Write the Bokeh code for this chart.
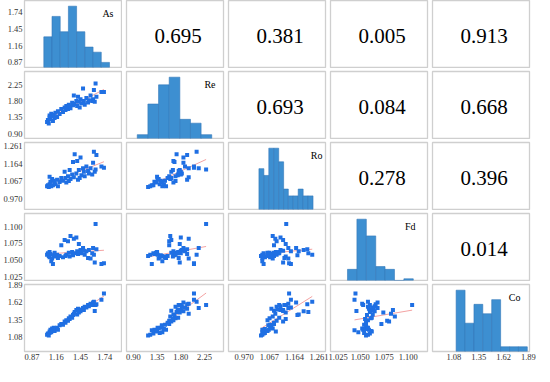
import numpy as np
from bokeh.plotting import figure
from bokeh.layouts import gridplot
from bokeh.models import Range1d, FixedTicker
from bokeh.core.properties import value
from bokeh.embed import file_html
from bokeh.resources import INLINE

variables = ["As", "Re", "Ro", "Fd", "Co"]

# samples (one value per sample for each variable)
As = [1.05, 1.06, 1.07, 1.08, 1.08, 1.09, 1.10, 1.11, 1.12, 1.13,
      1.14, 1.15, 1.17, 1.18, 1.20, 1.22, 1.24, 1.26, 1.27, 1.28,
      1.30, 1.31, 1.32, 1.33, 1.35, 1.36, 1.37, 1.38, 1.40, 1.41,
      1.42, 1.43, 1.44, 1.45, 1.46, 1.48, 1.49, 1.50, 1.52, 1.54,
      1.55, 1.57, 1.59, 1.60, 1.61, 1.62, 1.63, 1.64, 1.70, 1.73]
Re = [1.22, 1.28, 1.18, 1.35, 1.40, 1.30, 1.45, 1.38, 1.25, 1.42,
      1.33, 1.48, 1.36, 1.52, 1.44, 1.58, 1.50, 1.62, 1.55, 1.66,
      1.58, 1.70, 1.65, 1.60, 1.75, 1.68, 1.95, 1.72, 1.80, 1.66,
      1.92, 1.78, 1.62, 1.85, 1.74, 2.14, 1.80, 1.70, 1.88, 1.76,
      1.82, 1.95, 1.80, 1.85, 2.10, 1.78, 2.28, 1.92, 2.05, 2.05]
Ro = [1.040, 1.045, 1.035, 1.092, 1.050, 1.065, 1.040, 1.080, 1.045, 1.070,
      1.060, 1.050, 1.075, 1.040, 1.063, 1.085, 1.070, 1.120, 1.085, 1.060,
      1.095, 1.068, 1.130, 1.080, 1.105, 1.175, 1.090, 1.217, 1.110, 1.180,
      1.075, 1.130, 1.085, 1.199, 1.100, 1.140, 1.120, 1.095, 1.150, 1.125,
      1.110, 1.140, 1.105, 1.170, 1.232, 1.120, 1.132, 1.213, 1.150, 1.143]
Fd = [1.058, 1.060, 1.056, 1.062, 1.054, 1.059, 1.048, 1.052, 1.044, 1.057,
      1.061, 1.055, 1.058, 1.053, 1.056, 1.072, 1.054, 1.080, 1.056, 1.058,
      1.078, 1.061, 1.055, 1.086, 1.062, 1.057, 1.082, 1.060, 1.084, 1.063,
      1.059, 1.074, 1.061, 1.065, 1.060, 1.068, 1.064, 1.058, 1.063, 1.053,
      1.065, 1.052, 1.060, 1.068, 1.058, 1.046, 1.104, 1.066, 1.044, 1.045]
Co = [1.11, 1.13, 1.10, 1.16, 1.14, 1.19, 1.15, 1.21, 1.18, 1.22,
      1.17, 1.20, 1.22, 1.19, 1.26, 1.28, 1.27, 1.32, 1.30, 1.34,
      1.33, 1.37, 1.36, 1.40, 1.38, 1.42, 1.44, 1.47, 1.50, 1.43,
      1.52, 1.46, 1.49, 1.48, 1.51, 1.53, 1.50, 1.55, 1.54, 1.58,
      1.56, 1.60, 1.58, 1.62, 1.63, 1.485, 1.58, 1.59, 1.66, 1.76]

# correlation coefficients shown in the upper triangle
corr_As = ["0.695", "0.381", "0.005", "0.913"]   # vs Re, Ro, Fd, Co
corr_Re = ["0.693", "0.084", "0.668"]            # vs Ro, Fd, Co
corr_Ro = ["0.278", "0.396"]                     # vs Fd, Co
corr_Fd = ["0.014"]                              # vs Co

# tick values and labels
ticks_As = [0.87, 1.16, 1.45, 1.74]
labels_As = ["0.87", "1.16", "1.45", "1.74"]
ticks_Re = [0.90, 1.35, 1.80, 2.25]
labels_Re = ["0.90", "1.35", "1.80", "2.25"]
ticks_Ro = [0.970, 1.067, 1.164, 1.261]
labels_Ro = ["0.970", "1.067", "1.164", "1.261"]
ticks_Fd = [1.025, 1.050, 1.075, 1.100]
labels_Fd = ["1.025", "1.050", "1.075", "1.100"]
ticks_Co = [1.08, 1.35, 1.62, 1.89]
labels_Co = ["1.08", "1.35", "1.62", "1.89"]

# histograms on the diagonal
hist_edges_As = [1.011, 1.109, 1.207, 1.305, 1.403, 1.502, 1.600, 1.698, 1.796]
hist_counts_As = [6, 10, 7, 12, 7, 4, 3, 1]
hist_edges_Re = [0.974, 1.176, 1.378, 1.580, 1.782, 1.984, 2.185, 2.387]
hist_counts_Re = [1, 9, 14, 16, 5, 4, 1]
hist_edges_Ro = [1.027, 1.046, 1.065, 1.084, 1.103, 1.122, 1.140, 1.159,
                 1.178, 1.197, 1.216, 1.235]
hist_counts_Ro = [6, 5, 9, 9, 7, 3, 2, 2, 3, 2, 2]
hist_edges_Fd = [1.0367, 1.0465, 1.0563, 1.0661, 1.0758, 1.0856, 1.0954, 1.1052]
hist_counts_Fd = [4, 22, 16, 5, 4, 0, 0.6]
hist_edges_Co = [1.104, 1.201, 1.298, 1.394, 1.491, 1.588, 1.685, 1.782, 1.878]
hist_counts_Co = [13, 6, 10, 8, 11, 1, 1, 1]

data = [As, Re, Ro, Fd, Co]
ticks = [ticks_As, ticks_Re, ticks_Ro, ticks_Fd, ticks_Co]
tick_labels = [labels_As, labels_Re, labels_Ro, labels_Fd, labels_Co]
edges = [hist_edges_As, hist_edges_Re, hist_edges_Ro, hist_edges_Fd, hist_edges_Co]
counts = [hist_counts_As, hist_counts_Re, hist_counts_Ro, hist_counts_Fd, hist_counts_Co]
corr = [corr_As, corr_Re, corr_Ro, corr_Fd]
limits = [(0.78, 1.94), (0.77, 2.61), (0.91, 1.283), (1.019, 1.12), (0.847, 1.902)]
label_dx = [-8, -8, -3, -12, -9]

FONT = "Liberation Serif"
BAR = "#3d8fd1"
PT = "#1f6fe3"


def style_axis(ax, k):
    ax.ticker = FixedTicker(ticks=ticks[k])
    ax.major_label_overrides = {t: s for t, s in zip(ticks[k], tick_labels[k])}
    ax.axis_line_color = None
    ax.major_tick_line_color = None
    ax.minor_tick_line_color = None
    ax.major_tick_out = 0
    ax.major_tick_in = 0
    ax.major_label_standoff = 2
    ax.major_label_text_font = FONT
    ax.major_label_text_font_size = "8.5px"
    ax.major_label_text_color = "#333333"


rows = []
for i in range(5):
    row = []
    for j in range(5):
        p = figure(
            frame_width=97, frame_height=67,
            x_range=Range1d(*limits[j]), y_range=Range1d(*limits[i]),
            min_border_left=22 if j == 0 else 2,
            min_border_right=7 if j == 4 else 3,
            min_border_top=0 if i == 0 else 3,
            min_border_bottom=14 if i == 4 else 1,
            x_axis_location="below" if i == 4 else None,
            y_axis_location="left" if j == 0 else None,
            toolbar_location=None, output_backend="svg",
            background_fill_color="white", border_fill_color="white",
            outline_line_color="#cfcfcf", outline_line_width=1.3,
        )
        p.xgrid.grid_line_color = None
        p.ygrid.grid_line_color = None
        if i == 4:
            style_axis(p.xaxis[0], j)
        if j == 0:
            style_axis(p.yaxis[0], i)

        if i == j:
            top = max(counts[i]) / 0.915
            p.extra_y_ranges = {"hist": Range1d(0, top)}
            p.quad(left=edges[i][:-1], right=edges[i][1:], bottom=0, top=counts[i],
                   y_range_name="hist", fill_color=BAR, line_color="#3277b8",
                   line_width=0.6)
            p.text(x=[limits[i][1]], y=[top], text=[variables[i]], y_range_name="hist",
                   x_offset=label_dx[i], y_offset=7, text_align="right",
                   text_baseline="top", text_font=value(FONT),
                   text_font_size="10px", text_color="black")
        elif i > j:
            x = np.array(data[j])
            y = np.array(data[i])
            k, b = np.polyfit(x, y, 1)
            xs = np.array([x.min(), x.max()])
            p.line(xs, k * xs + b, line_color="#f4a3a3", line_width=1)
            p.scatter(x, y, marker="square", size=4, fill_color=PT, line_color=None)
        else:
            cx = (limits[j][0] + limits[j][1]) / 2
            cy = (limits[i][0] + limits[i][1]) / 2
            p.text(x=[cx], y=[cy], text=[corr[i][j - i - 1]], x_offset=3, y_offset=2,
                   text_align="center", text_baseline="middle",
                   text_font=value(FONT), text_font_size="21px", text_color="black")
        row.append(p)
    rows.append(row)

grid = gridplot(rows, toolbar_location=None)
grid.spacing = 0

open("out.html", "w").write(file_html(grid, INLINE))
